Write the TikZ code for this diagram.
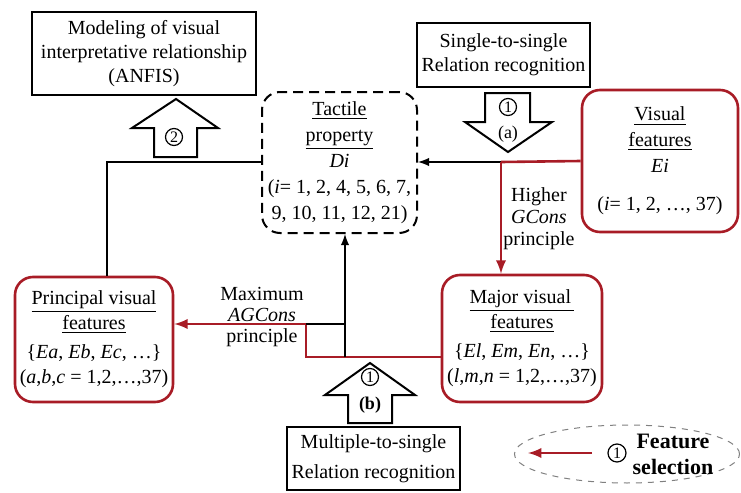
\documentclass[tikz,border=0pt]{standalone}
\usepackage{fontspec}
\setmainfont{Liberation Serif}
\usetikzlibrary{shapes.geometric}
\definecolor{selred}{RGB}{168,28,38}
\tikzset{
box/.style={rectangle,draw=black,line width=1pt,align=center,inner sep=1pt,
font=\fontsize{10}{12}\selectfont},
dashbox/.style={rectangle,rounded corners=9pt,draw=black,line width=1pt,
dash pattern=on 5pt off 3pt,align=center,inner sep=1pt,font=\fontsize{10}{13}\selectfont},
redbox/.style={rectangle,rounded corners=9pt,draw=selred,line width=1.3pt,
align=center,inner sep=1pt,font=\fontsize{10}{12.5}\selectfont},
num/.style={circle,draw=black,line width=0.6pt,inner sep=0pt,minimum size=8.5pt,
font=\fontsize{8}{8}\selectfont},
bigarrow/.style={draw=black,line width=1pt,fill=white,line join=miter},
redline/.style={draw=selred,line width=1.3pt},
blkline/.style={draw=black,line width=0.9pt},
lbl/.style={align=center,inner sep=0pt}
}
\begin{document}
\begin{tikzpicture}[x=0.5pt,y=-0.5pt]
	\useasboundingbox (0,0) rectangle (741,493);

	\node[box,minimum width=112pt,minimum height=41.5pt] (model) at (144,53.5)
		{Modeling of visual\\interpretative relationship\\(ANFIS)};
	\node[box,minimum width=86.5pt,minimum height=32pt] (single) at (503.5,55)
		{Single-to-single\\Relation recognition};
	\node[box,minimum width=86.5pt,minimum height=31.5pt,font=\fontsize{10}{15}\selectfont] (multi) at (373.5,458.5)
		{Multiple-to-single\\Relation recognition};
	\node[dashbox,minimum width=77.5pt,minimum height=70.5pt] (tact) at (339.5,162.5)
		{\underline{Tactile}\\\underline{property}\\\textit{Di}\\(\textit{i}= 1, 2, 4, 5, 6, 7,\\9, 10, 11, 12, 21)};
	\node[redbox,minimum width=78pt,minimum height=71pt,font=\fontsize{10}{13}\selectfont] (vis) at (660,161)
		{\underline{Visual}\\\underline{features}\\\textit{Ei}\\[6pt](\textit{i}= 1, 2, \ldots, 37)};
	\node[redbox,minimum width=80pt,minimum height=63.5pt] (major) at (522,338.5)
		{\underline{Major visual\,}\\\underline{features}\\[2pt]\{\textit{El}, \textit{Em}, \textit{En}, \ldots\}\\(\textit{l},\textit{m},\textit{n} = 1,2,\ldots,37)};
	\node[redbox,minimum width=79pt,minimum height=62.5pt] (princ) at (94,339.5)
		{\underline{Principal visual}\\\underline{features}\\[2pt]\{\textit{Ea}, \textit{Eb}, \textit{Ec}, \ldots\}\\(\textit{a},\textit{b},\textit{c} = 1,2,\ldots,37)};

	% block arrows
	\draw[bigarrow] (176,99) -- (218,128) -- (197,128) -- (197,157)
		-- (154,157) -- (154,128) -- (132,128) -- cycle;
	\node[num] (c2) at (174,137) {2};
	\draw[bigarrow] (508,152) -- (552,122) -- (530,122) -- (530,93)
		-- (485,93) -- (485,122) -- (465,122) -- cycle;
	\node[num] (c1a) at (508,107) {1};
	\node[lbl,font=\fontsize{9}{9}\selectfont] (pa) at (508,134) {(a)};
	\draw[bigarrow] (370,363) -- (415,395) -- (392,395) -- (392,423)
		-- (348,423) -- (348,395) -- (325,395) -- cycle;
	\node[num] (c1b) at (370,377) {1};
	\node[lbl,font=\bfseries\fontsize{9}{9}\selectfont] (pb) at (370,405) {(b)};

	% connectors
	\coordinate (sp) at (501,162);
	\coordinate (lc) at (107,162);
	\coordinate (rc) at (306,357);
	\coordinate (rt) at (306,324);
	\coordinate (bc) at (345,357);
	\draw[redline] (vis.west) -- (sp);
	\draw[blkline,-latex] (sp) -- (sp -| tact.east);
	\draw[redline,-latex] (sp) -- (sp |- major.north);
	\draw[blkline] (lc -| tact.west) -- (lc) -- (lc |- princ.north);
	\draw[redline,-latex] (rc -| major.west) -- (rc) -- (rt) -- (rt -| princ.east);
	\draw[blkline] (rt) -- (rt -| bc);
	\draw[blkline,-latex] (bc) -- (bc |- tact.south);

	\node[lbl,font=\fontsize{10}{11}\selectfont] (hg) at (539,219) {Higher\\\textit{GCons}\\principle};
	\node[lbl,font=\fontsize{10}{10.5}\selectfont] (mx) at (262,317) {Maximum\\\textit{AGCons}\\principle};

	% legend
	\node[ellipse,draw=gray,dashed,line width=0.5pt,minimum width=112.5pt,minimum height=29pt] (leg) at (627,454) {};
	\node[num,minimum size=9pt] (c1l) at (617,453) {1};
	\node[lbl,font=\bfseries\fontsize{11}{13}\selectfont] (fs) at (673,454) {Feature\\selection};
	\coordinate (lg1) at (592,453);
	\coordinate (lg2) at (528,453);
	\draw[redline,-latex] (lg1) -- (lg2);
\end{tikzpicture}
\end{document}
